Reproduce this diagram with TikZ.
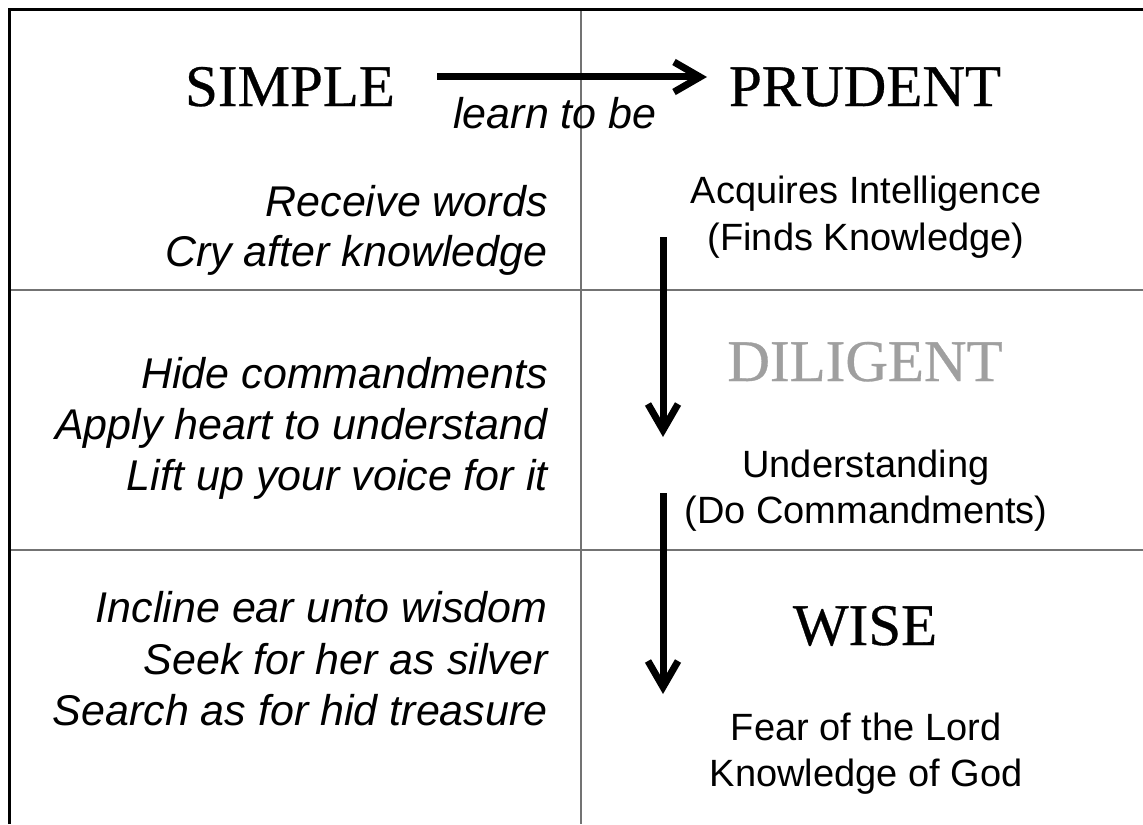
\documentclass[tikz,border=0pt]{standalone}
\usepackage{fontspec}
\setmainfont{Liberation Serif}
\newfontfamily\arialfont{Liberation Sans}
\newfontfamily\stagefont[FakeBold=0.5]{Liberation Serif}
\usetikzlibrary{arrows.meta}

\begin{document}
\begin{tikzpicture}[x=0.5pt,y=-0.5pt]
	\tikzstyle{title}=[inner sep=0pt,anchor=base,font=\stagefont\fontsize{29.5}{34}\selectfont];
	\tikzstyle{deed}=[inner sep=0pt,anchor=base east,font=\arialfont\itshape\fontsize{21.5}{26}\selectfont];
	\tikzstyle{gain}=[inner sep=0pt,anchor=base,font=\arialfont\fontsize{19}{23}\selectfont];
	\tikzstyle{frame}=[line width=1.5pt,draw=black];
	\tikzstyle{rule}=[line width=1pt,draw=gray!90!black];
	\tikzstyle{lead}=[line width=3.5pt,-{Straight Barb[length=13pt,width=15pt]}];

	\useasboundingbox (0,0) rectangle (1143,824);
	\fill[white] (0,0) rectangle (1143,824);

	% grid
	\draw[rule] (581,10) -- (581,824);
	\draw[rule] (9,290) -- (1143,290);
	\draw[rule] (9,550) -- (1143,550);
	\draw[frame] (9,824) -- (9,10) -- (1143,10);

	% stages
	\node[title] (simple)   at (290,106) {SIMPLE};
	\node[title] (prudent)  at (865,106) {PRUDENT};
	\node[title,gray!75] (diligent) at (865,381) {DILIGENT};
	\node[title] (wise)     at (865,645) {WISE};
	\node[inner sep=0pt,anchor=base,font=\arialfont\itshape\fontsize{21.5}{26}\selectfont] (learn) at (555,128) {learn to be};

	% what to do
	\node[deed] (receive) at (548,216) {Receive words};
	\node[deed] (cry)     at (548,266) {Cry after knowledge};
	\node[deed] (hide)    at (548,388) {Hide commandments};
	\node[deed] (apply)   at (548,439) {Apply heart to understand};
	\node[deed] (lift)    at (548,490) {Lift up your voice for it};
	\node[deed] (incline) at (548,622) {Incline ear unto wisdom};
	\node[deed] (seek)    at (548,674) {Seek for her as silver};
	\node[deed] (search)  at (548,725) {Search as for hid treasure};

	% what is gained
	\node[gain] (acquires) at (866,203) {Acquires Intelligence};
	\node[gain] (finds)    at (866,250) {(Finds Knowledge)};
	\node[gain] (underst)  at (866,477) {Understanding};
	\node[gain] (docomm)   at (866,523) {(Do Commandments)};
	\node[gain] (fear)     at (866,740) {Fear of the Lord};
	\node[gain] (knowgod)  at (866,786) {Knowledge of God};

	% arrows
	\coordinate (a1) at (437,77);  \coordinate (b1) at (707,77);
	\coordinate (a2) at (663,237); \coordinate (b2) at (663,437);
	\coordinate (a3) at (663,493); \coordinate (b3) at (663,694);
	\draw[lead] (a1) -- (b1);
	\draw[lead] (a2) -- (b2);
	\draw[lead] (a3) -- (b3);
\end{tikzpicture}
\end{document}
